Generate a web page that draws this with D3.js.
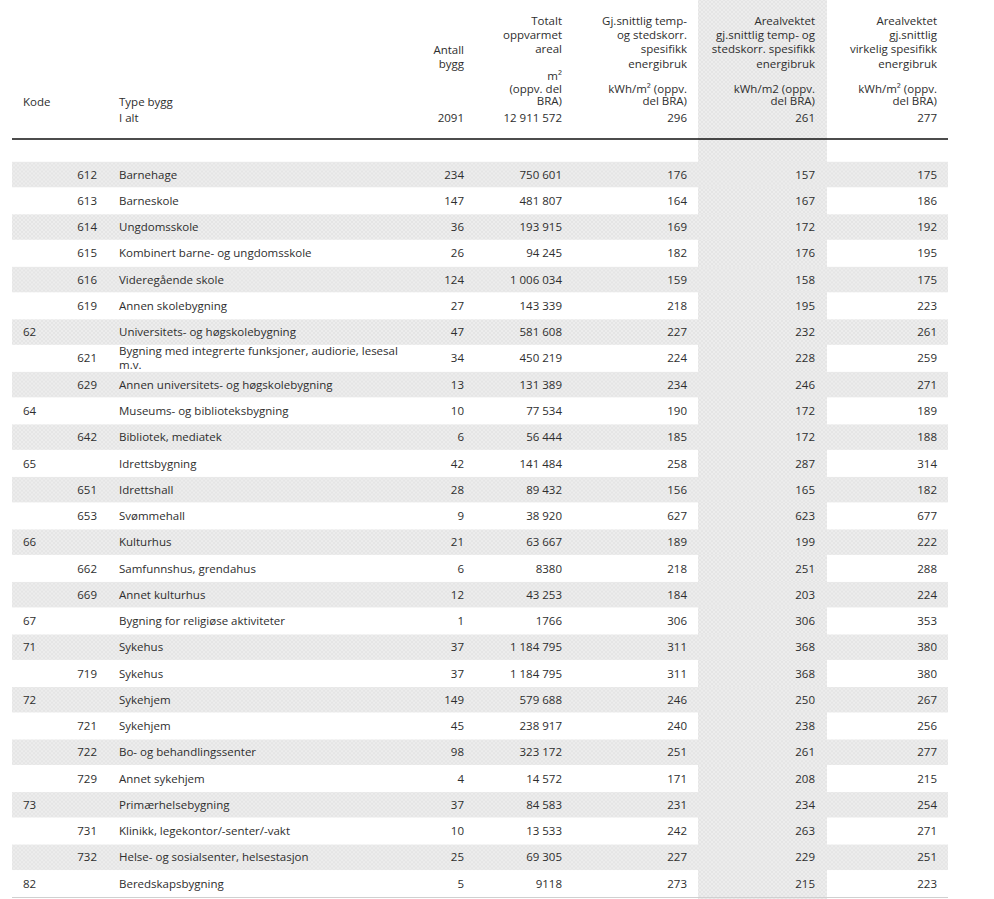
<!DOCTYPE html>
<html>
<head>
<meta charset="utf-8">
<script src="https://cdn.jsdelivr.net/npm/d3@7"></script>
<style>
  html, body { margin: 0; padding: 0; background: #fff; }
  svg text { font-family: "Open Sans", sans-serif; font-size: 11.5px; fill: #2e2e2e; }
</style>
</head>
<body>
<div id="chart"></div>
<script>
// table data, one array per column
const groupCodes = ['', '', '', '', '', '', '62', '', '', '64', '', '65', '', '', '66', '', '', '67', '71', '', '72', '', '', '', '73', '', '', '82'];
const subCodes = ['612', '613', '614', '615', '616', '619', '', '621', '629', '', '642', '', '651', '653', '', '662', '669', '', '', '719', '', '721', '722', '729', '', '731', '732', ''];
const types = [
    'Barnehage', 'Barneskole', 'Ungdomsskole', 'Kombinert barne- og ungdomsskole', 'Videregående skole',
    'Annen skolebygning', 'Universitets- og høgskolebygning', 'Bygning med integrerte funksjoner, audiorie, lesesal|m.v.',
    'Annen universitets- og høgskolebygning', 'Museums- og biblioteksbygning', 'Bibliotek, mediatek', 'Idrettsbygning',
    'Idrettshall', 'Svømmehall', 'Kulturhus', 'Samfunnshus, grendahus', 'Annet kulturhus', 'Bygning for religiøse aktiviteter',
    'Sykehus', 'Sykehus', 'Sykehjem', 'Sykehjem', 'Bo- og behandlingssenter', 'Annet sykehjem', 'Primærhelsebygning',
    'Klinikk, legekontor/-senter/-vakt', 'Helse- og sosialsenter, helsestasjon', 'Beredskapsbygning'
];
const antall = [234, 147, 36, 26, 124, 27, 47, 34, 13, 10, 6, 42, 28, 9, 21, 6, 12, 1, 37, 37, 149, 45, 98, 4, 37, 10, 25, 5];
const areal = [750601, 481807, 193915, 94245, 1006034, 143339, 581608, 450219, 131389, 77534, 56444, 141484, 89432, 38920,
    63667, 8380, 43253, 1766, 1184795, 1184795, 579688, 238917, 323172, 14572, 84583, 13533, 69305, 9118];
const gjsnitt = [176, 164, 169, 182, 159, 218, 227, 224, 234, 190, 185, 258, 156, 627, 189, 218, 184, 306, 311, 311, 246, 240,
    251, 171, 231, 242, 227, 273];
const arealvektet = [157, 167, 172, 176, 158, 195, 232, 228, 246, 172, 172, 287, 165, 623, 199, 251, 203, 306, 368, 368, 250,
    238, 261, 208, 234, 263, 229, 215];
const virkelig = [175, 186, 192, 195, 175, 223, 261, 259, 271, 189, 188, 314, 182, 677, 222, 288, 224, 353, 380, 380, 267,
    256, 277, 215, 254, 271, 251, 223];

const totals = ['2091', 12911572, '296', '261', '277'];
const headerTop = [
    ['Antall', 'bygg'],
    ['Totalt', 'oppvarmet', 'areal'],
    ['Gj.snittlig temp-', 'og stedskorr.', 'spesifikk', 'energibruk'],
    ['Arealvektet', 'gj.snittlig temp- og', 'stedskorr. spesifikk', 'energibruk'],
    ['Arealvektet', 'gj.snittlig', 'virkelig spesifikk', 'energibruk']
];
const headerUnit = [
    [],
    ['m²', '(oppv. del', 'BRA)'],
    ['kWh/m² (oppv.', 'del BRA)'],
    ['kWh/m2 (oppv.', 'del BRA)'],
    ['kWh/m² (oppv.', 'del BRA)']
];

const width = 994, height = 899;
const colRight = [464, 562, 687, 815, 937];
const shadeCol = { x0: 698, x1: 827 };
const left = 12, right = 948;
const lineH = 14.3;

const fmtBig = v => typeof v === 'number' && v >= 10000 ? d3.format(',')(v).replace(/,/g, ' ') : String(v);

const svg = d3.select('#chart').append('svg')
    .attr('width', width)
    .attr('height', height);

// faint cross-hatch used for the grey fills
const pat = svg.append('defs').append('pattern')
    .attr('id', 'hatch')
    .attr('patternUnits', 'userSpaceOnUse')
    .attr('width', 4).attr('height', 4);
pat.append('rect').attr('width', 4).attr('height', 4).attr('fill', '#ededed');
pat.append('path').attr('d', 'M0,0L4,4M4,0L0,4')
    .attr('stroke', '#e3e3e3').attr('stroke-width', 0.8);

const y = d3.scaleBand()
    .domain(d3.range(types.length))
    .range([161.5, 161.5 + 26.26 * types.length])
    .padding(0);

// shaded column behind everything
svg.append('rect')
    .attr('x', shadeCol.x0).attr('y', 0)
    .attr('width', shadeCol.x1 - shadeCol.x0).attr('height', height)
    .attr('fill', 'url(#hatch)');

// header
const head = svg.append('g');
headerTop.forEach((lines, c) => {
    lines.forEach((t, k) => {
        head.append('text')
            .attr('x', colRight[c]).attr('y', (c === 0 ? 50 : 20.7) + k * lineH)
            .attr('dy', '0.35em').attr('text-anchor', 'end').text(t);
    });
});
headerUnit.forEach((lines, c) => {
    const ys = lines.length === 3 ? [76, 89, 101] : [89, 101];
    lines.forEach((t, k) => {
        head.append('text')
            .attr('x', colRight[c]).attr('y', ys[k])
            .attr('dy', '0.35em').attr('text-anchor', 'end').text(t);
    });
});
head.append('text').attr('x', 23).attr('y', 101.5).attr('dy', '0.35em').text('Kode');
head.append('text').attr('x', 119).attr('y', 101.5).attr('dy', '0.35em').text('Type bygg');
head.append('text').attr('x', 119).attr('y', 118.3).attr('dy', '0.35em').text('I alt');
totals.forEach((v, c) => {
    head.append('text')
        .attr('x', colRight[c]).attr('y', 118.3)
        .attr('dy', '0.35em').attr('text-anchor', 'end').text(fmtBig(v));
});
svg.append('line')
    .attr('x1', left).attr('x2', right).attr('y1', 139).attr('y2', 139)
    .attr('stroke', '#111').attr('stroke-width', 1.5);

// body rows, drawn in order so the next stripe covers any overflow
const cols = [antall, areal, gjsnitt, arealvektet, virkelig];
const rows = svg.append('g').selectAll('g')
    .data(d3.range(types.length))
    .join('g')
    .attr('transform', i => `translate(0,${y(i)})`);

rows.filter(i => i % 2 === 0).append('rect')
    .attr('x', left).attr('y', 0.3)
    .attr('width', right - left).attr('height', y.bandwidth() - 0.8)
    .attr('fill', 'url(#hatch)');

const mid = y.bandwidth() / 2;
rows.append('text')
    .attr('x', 23).attr('y', mid).attr('dy', '0.35em')
    .text(i => groupCodes[i]);
rows.append('text')
    .attr('x', 97).attr('y', mid).attr('dy', '0.35em').attr('text-anchor', 'end')
    .text(i => subCodes[i]);
rows.each(function (i) {
    const parts = types[i].split('|');
    const g = d3.select(this);
    parts.forEach((t, k) => {
        g.append('text')
            .attr('x', 119)
            .attr('y', mid + (k - (parts.length - 1) / 2) * lineH - (parts.length > 1 ? 0.5 : 0))
            .attr('dy', '0.35em').text(t);
    });
    cols.forEach((arr, c) => {
        g.append('text')
            .attr('x', colRight[c]).attr('y', mid)
            .attr('dy', '0.35em').attr('text-anchor', 'end')
            .text(fmtBig(arr[i]));
    });
});

// bottom rule
svg.append('line')
    .attr('x1', left).attr('x2', right).attr('y1', 897.5).attr('y2', 897.5)
    .attr('stroke', '#d0d0d0').attr('stroke-width', 1);
</script>
</body>
</html>
